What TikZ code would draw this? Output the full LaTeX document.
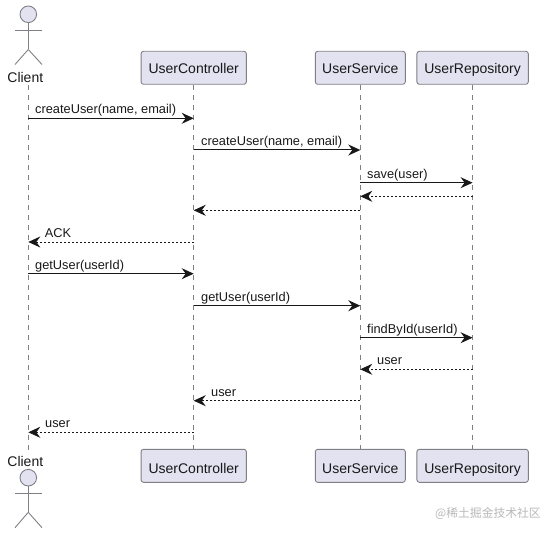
\documentclass[tikz,border=0pt]{standalone}
\usepackage{fontspec}
\setmainfont{Liberation Sans}
\newfontfamily\cjk{Noto Sans CJK SC}
\usetikzlibrary{arrows.meta}
\definecolor{boxfill}{HTML}{E2E2F0}
\definecolor{boxline}{HTML}{7F7F85}
\definecolor{inkline}{HTML}{181818}
\tikzset{
	part/.style={draw=boxline, fill=boxfill, rounded corners=2.5pt, line width=0.9pt, minimum height=33pt, inner sep=0pt, font=\fontsize{14}{16}\selectfont, text=inkline},
	parttop/.style={part, text height=13pt, text depth=2pt},
	partbot/.style={part, text height=15.2pt, text depth=0pt},
	lifeline/.style={draw=boxline, line width=0.8pt, dash pattern=on 5pt off 5pt},
	stick/.style={draw=boxline, line width=0.9pt},
	call/.style={draw=inkline, line width=1pt, -{Stealth[length=12pt,width=11pt,inset=4pt]}},
	reply/.style={draw=inkline, line width=0.9pt, dash pattern=on 2pt off 2pt, -{Stealth[length=12pt,width=11pt,inset=4pt]}},
	msg/.style={anchor=base west, inner sep=0pt, font=\fontsize{12.8}{15}\selectfont, text=inkline},
	actorname/.style={inner sep=0pt, font=\fontsize{14}{16}\selectfont, text=inkline},
}
\begin{document}
\begin{tikzpicture}[x=1pt, y=-1pt]
	\useasboundingbox (0,0) rectangle (555,535);
	\node (cl) [circle, draw=boxline, fill=boxfill, line width=0.9pt, minimum size=16.6pt, inner sep=0pt] at (28.3,14.3) {};
	\node (clb) [circle, draw=boxline, fill=boxfill, line width=0.9pt, minimum size=16.6pt, inner sep=0pt] at (28.3,477.7) {};
	\node (clname) [actorname] at (25.3,77.3) {Client};
	\node (clnameb) [actorname] at (25.3,461.3) {Client};
	\node (uc) [parttop, minimum width=105.3pt] at (193.7,67.8) {UserController};
	\node (us) [parttop, minimum width=90pt] at (360.3,67.8) {UserService};
	\node (ur) [parttop, minimum width=111.4pt] at (472.6,67.8) {UserRepository};
	\node (ucb) [partbot, minimum width=105.3pt] at (193.7,465.8) {UserController};
	\node (usb) [partbot, minimum width=90pt] at (360.3,465.8) {UserService};
	\node (urb) [partbot, minimum width=111.4pt] at (472.6,465.8) {UserRepository};
	\coordinate (cltop) at (28.3,85);
	\coordinate (clbot) at (28.3,450);
	\coordinate (armL) at (15,30);
	\coordinate (armR) at (42,30);
	\coordinate (hip) at (28.3,49.5);
	\coordinate (footL) at (15,64.5);
	\coordinate (footR) at (42,64.5);
	\coordinate (armLb) at (15,493.3);
	\coordinate (armRb) at (42,493.3);
	\coordinate (hipb) at (28.3,512.3);
	\coordinate (footLb) at (15,527.7);
	\coordinate (footRb) at (42,527.7);
	\draw [stick] (armL) to (armR);
	\draw [stick] (cl) to (hip);
	\draw [stick] (footL) to (hip);
	\draw [stick] (footR) to (hip);
	\draw [stick] (armLb) to (armRb);
	\draw [stick] (clb) to (hipb);
	\draw [stick] (footLb) to (hipb);
	\draw [stick] (footRb) to (hipb);
	\draw [lifeline] (cltop) to (clbot);
	\draw [lifeline] (uc) to (ucb);
	\draw [lifeline] (us) to (usb);
	\draw [lifeline] (ur) to (urb);
	\coordinate (r1) at (0,118.3);
	\coordinate (r2) at (0,150);
	\coordinate (r3) at (0,182.7);
	\coordinate (r4) at (0,196.3);
	\coordinate (r5) at (0,210.3);
	\coordinate (r6) at (0,242);
	\coordinate (r7) at (0,273.7);
	\coordinate (r8) at (0,305.7);
	\coordinate (r9) at (0,337.7);
	\coordinate (r10) at (0,369.3);
	\coordinate (r11) at (0,400.7);
	\coordinate (r12) at (0,432.3);
	\draw [call] (cl |- r1) to (uc |- r1);
	\draw [call] (uc |- r2) to (us |- r2);
	\draw [call] (us |- r3) to (ur |- r3);
	\draw [reply] (ur |- r4) to (us |- r4);
	\draw [reply] (us |- r5) to (uc |- r5);
	\draw [reply] (uc |- r6) to (cl |- r6);
	\draw [call] (cl |- r7) to (uc |- r7);
	\draw [call] (uc |- r8) to (us |- r8);
	\draw [call] (us |- r9) to (ur |- r9);
	\draw [reply] (ur |- r10) to (us |- r10);
	\draw [reply] (us |- r11) to (uc |- r11);
	\draw [reply] (uc |- r12) to (cl |- r12);
	\node (m1) [msg] at (35,113.8) {createUser(name, email)};
	\node (m2) [msg] at (201,145.5) {createUser(name, email)};
	\node (m3) [msg] at (367,178.2) {save(user)};
	\node (m6) [msg] at (44.7,237.5) {ACK};
	\node (m7) [msg] at (35,269.5) {getUser(userId)};
	\node (m8) [msg] at (201,301.5) {getUser(userId)};
	\node (m9) [msg] at (367,333.5) {findById(userId)};
	\node (m10) [msg] at (377,364.8) {user};
	\node (m11) [msg] at (211,396.2) {user};
	\node (m12) [msg] at (45,427.8) {user};
	\node (mark) [inner sep=0pt, text=black!28, font=\fontsize{11.8}{14}\cjk] at (488,513.5) {@稀土掘金技术社区};
\end{tikzpicture}
\end{document}
